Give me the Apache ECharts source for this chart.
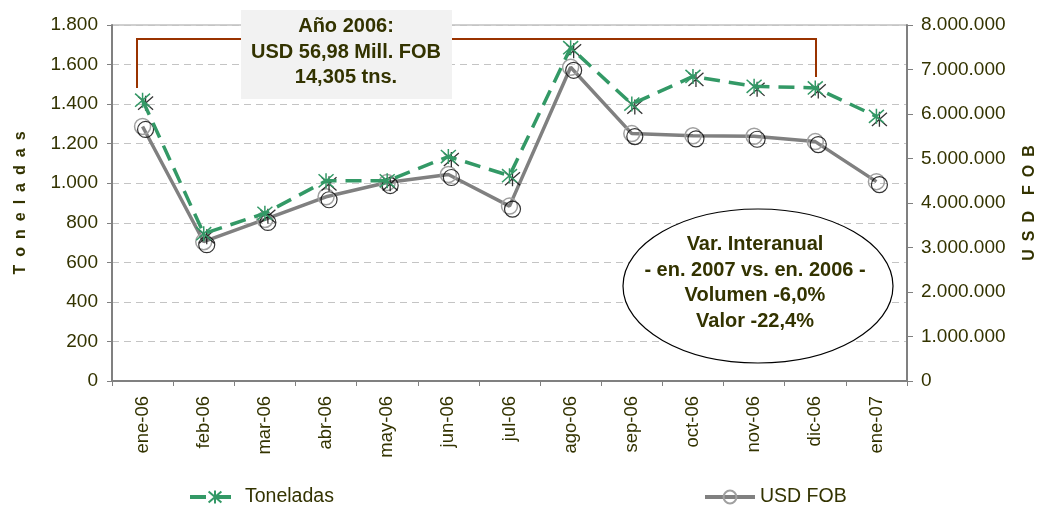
<!DOCTYPE html>
<html>
<head>
<meta charset="utf-8">
<script src="https://cdn.jsdelivr.net/npm/echarts@6/dist/echarts.min.js"></script>
<style>
    html, body { margin: 0; padding: 0; background: #fff; }
    #chart { width: 1040px; height: 506px; }
</style>
</head>
<body>
<div id="chart"></div>
<script>
// meses
const meses = ['ene-06', 'feb-06', 'mar-06', 'abr-06', 'may-06', 'jun-06', 'jul-06', 'ago-06', 'sep-06', 'oct-06', 'nov-06', 'dic-06', 'ene-07']
// toneladas (eje izq.)
const toneladas = [1420, 745, 848, 1012, 1012, 1135, 1038, 1685, 1400, 1540, 1490, 1482, 1338]
// USD FOB (eje der.)
const usdFob = [5720000, 3130000, 3630000, 4140000, 4460000, 4640000, 3930000, 7050000, 5560000, 5510000, 5500000, 5380000, 4480000]

const recuadroTxt = ['Año 2006:', 'USD 56,98 Mill. FOB', '14,305 tns.']
const elipseTxt = ['Var. Interanual', '- en. 2007 vs. en. 2006 -', 'Volumen -6,0%', 'Valor -22,4%']

const FONT = '"Liberation Sans", Arial, sans-serif',
    OLIVA = '#333300',
    VERDE = '#339966',
    GRIS = '#808080'

// separador de miles con punto
const fmt = v => String(v).replace(/\B(?=(\d{3})+(?!\d))/g, '.')

// asterisco tipo excel
const estrella = 'path://M8,0 L8,16 M1,1 L15,15 M15,1 L1,15'

const chart = echarts.init(document.getElementById('chart'))
chart.setOption({
    animation: false,
    backgroundColor: '#fff',
    grid: {
        left: 112, right: 133, top: 25, bottom: 125,
        outerBoundsMode: 'none',
        show: true, borderColor: '#a0a0a0', borderWidth: 1
    },
    legend: [
        {
            data: ['Toneladas'], left: 183, top: 482,
            itemWidth: 50, itemHeight: 16, itemGap: 5,
            lineStyle: { width: 4 },
            textStyle: { fontFamily: FONT, fontSize: 19.5, color: OLIVA }
        },
        {
            data: ['USD FOB'], left: 698, top: 482,
            itemWidth: 50, itemHeight: 16, itemGap: 5,
            lineStyle: { width: 4 },
            textStyle: { fontFamily: FONT, fontSize: 19.5, color: OLIVA }
        }
    ],
    xAxis: {
        type: 'category',
        data: meses,
        boundaryGap: true,
        axisLine: { lineStyle: { color: GRIS, width: 2 } },
        axisTick: { show: true, length: 5, lineStyle: { color: GRIS } },
        axisLabel: { rotate: 90, margin: 15, fontFamily: FONT, fontSize: 18.5, color: OLIVA }
    },
    yAxis: [
        {
            type: 'value', min: 0, max: 1800, interval: 200,
            name: 'T\u2002o\u2002n\u2002e\u2002l\u2002a\u2002d\u2002a\u2002s',
            nameLocation: 'middle', nameRotate: 90, nameGap: 83,
            nameTextStyle: { fontFamily: FONT, fontSize: 16, fontWeight: 'bold', color: OLIVA },
            axisLine: { show: true, lineStyle: { color: GRIS, width: 2 } },
            axisTick: { show: true, length: 5, lineStyle: { color: GRIS } },
            axisLabel: { margin: 14, fontFamily: FONT, fontSize: 19, color: OLIVA, formatter: fmt },
            splitLine: { lineStyle: { color: '#c4c4c4', type: [7, 5] } }
        },
        {
            type: 'value', min: 0, max: 8000000, interval: 1000000,
            position: 'right',
            name: 'U\u2002S\u2002D\u2002\u2002F\u2002O\u2002B',
            nameLocation: 'middle', nameRotate: 90, nameGap: 115,
            nameTextStyle: { fontFamily: FONT, fontSize: 16, fontWeight: 'bold', color: OLIVA },
            axisLine: { show: true, lineStyle: { color: GRIS, width: 2 } },
            axisTick: { show: true, length: 6, lineStyle: { color: GRIS } },
            axisLabel: { margin: 14, fontFamily: FONT, fontSize: 19, color: OLIVA, formatter: fmt },
            splitLine: { show: false }
        }
    ],
    series: [
        {
            name: 'USD FOB',
            type: 'line',
            yAxisIndex: 1,
            data: usdFob,
            z: 3,
            lineStyle: { color: GRIS, width: 3.5 },
            symbol: 'circle', symbolSize: 16,
            itemStyle: { color: 'rgba(255,255,255,0)', borderColor: '#a0a0a0', borderWidth: 1.5 }
        },
        {
            // sombra negra del circulo
            name: 'usdSombra',
            type: 'scatter',
            yAxisIndex: 1,
            data: usdFob,
            z: 4,
            symbol: 'circle', symbolSize: 16, symbolOffset: [3, 3],
            itemStyle: { color: 'rgba(255,255,255,0)', borderColor: '#000', borderWidth: 1.2 },
            silent: true
        },
        {
            // sombra negra del asterisco
            name: 'tonSombra',
            type: 'scatter',
            yAxisIndex: 0,
            data: toneladas,
            z: 5,
            symbol: estrella, symbolSize: 15, symbolOffset: [3, 3],
            itemStyle: { color: '#000', borderColor: '#000', borderWidth: 1.3 },
            silent: true
        },
        {
            name: 'Toneladas',
            type: 'line',
            yAxisIndex: 0,
            data: toneladas,
            z: 6,
            lineStyle: { color: VERDE, width: 3.5, type: [16, 9] },
            symbol: estrella, symbolSize: 15,
            itemStyle: { color: VERDE, borderColor: VERDE, borderWidth: 1.5 }
        }
    ],
    graphic: [
        {
            // corchete año 2006
            type: 'polyline', z: 8,
            shape: { points: [[137, 88], [137, 39], [816, 39], [816, 77]] },
            style: { stroke: '#993300', lineWidth: 2, fill: null }
        },
        {
            type: 'rect', z: 10,
            shape: { x: 241, y: 10, width: 211, height: 89 },
            style: { fill: '#f2f2f2' }
        },
        {
            type: 'text', z: 11,
            x: 346, y: 52,
            style: {
                text: recuadroTxt.join('\n'),
                font: 'bold 20px ' + FONT, fill: OLIVA,
                align: 'center', verticalAlign: 'middle', lineHeight: 25.5
            }
        },
        {
            type: 'ellipse', z: 10,
            shape: { cx: 758, cy: 286, rx: 135, ry: 77 },
            style: { fill: '#fff', stroke: '#000', lineWidth: 1.2 }
        },
        {
            type: 'text', z: 11,
            x: 755, y: 283,
            style: {
                text: elipseTxt.join('\n'),
                font: 'bold 20px ' + FONT, fill: OLIVA,
                align: 'center', verticalAlign: 'middle', lineHeight: 25.5
            }
        }
    ]
})
</script>
</body>
</html>
